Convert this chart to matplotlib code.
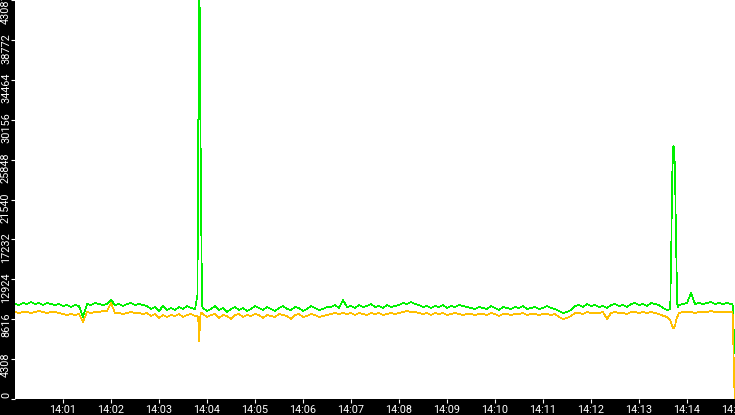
import numpy as np
import matplotlib
matplotlib.use("Agg")
import matplotlib.pyplot as plt
from matplotlib.ticker import FuncFormatter
from matplotlib.transforms import ScaledTranslation

# ==============================================================
# Data (one sample every 5 s from 14:00)
# ==============================================================
STEP = 5  # seconds

green = [
    10260, 10150, 10370, 10260, 10480, 10260, 10370, 10150, 10370, 10260, 10150, 10260,
    10040, 10150, 9930, 10150, 10040,
    8860,
    10260, 10150, 10370, 10260, 10150, 10260,
    10690,
    10150, 10260, 10040, 10260, 10370, 10150, 10260, 10150, 10040,
    9720, 9930, 9500, 10040, 9610,
    9830, 9610, 9930, 9720, 10040, 9830, 9720,
    9830,
    9830, 9500, 9720, 10040, 9610, 9830, 9400, 9720, 9930, 9610,
    9830, 9500, 9720, 10040, 9830, 9610, 9930, 9720, 9500, 9830,
    10040, 9720, 9610, 9930, 9830, 9500, 9720, 10040, 9830, 9610,
    9720, 9930,
    9930, 10150, 9830, 10690,
    9930, 10040, 9830, 10150, 9930, 10040, 10260, 9930, 10040, 9830, 10150, 9930, 10040, 10150,
    10370, 10260, 10480, 10260, 10150,
    9930, 10040, 9830, 10040, 9930, 10150, 9830, 10040, 9930, 10150, 10040, 9930,
    9830, 9720, 9930, 9830, 9720, 10040, 9830, 9610, 9930, 9830,
    9720, 9930, 9830, 10040, 9720, 9830, 9930, 9720, 9830, 10040,
    9830, 9720,
    9500, 9290, 9400, 9610,
    10040, 10150, 9930, 10260, 10040, 10150, 9930, 10040, 9830, 10150,
    10260, 10040, 10150, 9930, 10260, 10370, 10150, 10260, 10040, 10370,
    10260,
    10150, 9830, 9610,
    9700, 9700,
    10150, 10260, 10370, 11450, 10260, 10370, 10260, 10370, 10480, 10260, 10370, 10260, 10370, 10260,
]

yellow = [
    9400, 9290, 9400, 9400, 9290, 9400, 9510, 9400, 9290, 9400, 9400, 9290,
    9180, 9070, 9180, 9070, 9180,
    8320,
    9400, 9290, 9400, 9400, 9510, 9510,
    10370,
    9290, 9290, 9180, 9290, 9400, 9290, 9290, 9180, 9290,
    8960, 9180, 8750, 9070, 8850,
    9070, 8960, 9180, 8850, 9070, 9180, 8960,
    9000,
    9180, 8850, 9070, 9180, 8750, 9070, 8960, 8640, 9070, 9180,
    8850, 9070, 8960, 9180, 9070, 8750, 9070, 8960, 8850, 9180,
    9070, 8960, 8640, 9070, 9180, 8850, 8960, 9180, 9070, 8850,
    8960, 9070,
    9180, 9290, 9180, 9290,
    9180, 9290, 9070, 9290, 9180, 9070, 9290, 9180, 9290, 9070, 9180, 9290, 9180, 9290,
    9400, 9510, 9400, 9400, 9290,
    9180, 9290, 9070, 9290, 9180, 9290, 9070, 9180, 9290, 9180, 9070, 9180,
    9180, 9070, 9180, 9180, 9070, 9290, 9180, 8960, 9180, 9180,
    9070, 9180, 9180, 9290, 9070, 9180, 9180, 9070, 9180, 9180,
    9070, 9180,
    8850, 8640, 8750, 8960,
    9290, 9290, 9180, 9400, 9290, 9290, 9290, 9400, 8640, 9290,
    9400, 9290, 9290, 9180, 9400, 9400, 9290, 9400, 9290, 9400,
    9290,
    9180, 9000, 8850,
    8500, 8500,
    9290, 9400, 9400, 9400, 9290, 9400, 9400, 9400, 9510, 9400, 9400, 9400, 9400, 9400,
]

# the two short bursts are sampled finer (seconds after 14:00)
spike1_t = [228.1, 229.1, 230.4, 231.2, 232.0, 233.0, 234.0]
spike1_green = [11200, 27900, 52000, 33600, 27900, 16900, 10000]
spike1_yellow = [9000, 8500, 6200, 8500, 9100, 9300, 9300]

spike2_t = [819.0, 820.2, 821.6, 822.9, 824.2, 825.2, 826.8, 828.0]
spike2_green = [9700, 15500, 24400, 27300, 27000, 23300, 14700, 9900]
spike2_yellow = [8500, 8200, 7900, 7600, 7700, 8000, 8600, 8900]

# end of the capture
tail_t = [897.0, 899.5]
tail_green = [10300, 4970]
tail_yellow = [9400, 0]

y_tick_labels = ["0", "4308", "8616", "12924", "17232", "21540", "25848",
                 "30156", "34464", "38772", "43081"]
x_tick_minutes = list(range(1, 16))


def build_series(base, bursts, tail_times, tail_vals):
    """Put the regular samples, the bursts and the tail into one sorted series"""
    t = np.arange(len(base)) * STEP
    v = np.array(base, dtype=float)
    keep = np.ones(len(t), dtype=bool)
    for bt, _ in bursts:
        keep &= ~((t >= bt[0] - 0.5) & (t <= bt[-1] + 0.5))
    t, v = t[keep], v[keep]
    for bt, bv in bursts:
        t = np.concatenate([t, bt])
        v = np.concatenate([v, bv])
    t = np.concatenate([t, tail_times])
    v = np.concatenate([v, tail_vals])
    order = np.argsort(t, kind="stable")
    return t[order], v[order]


def main():
    W, H = 735, 415
    fig = plt.figure(figsize=(W / 100, H / 100), dpi=100, facecolor="black")
    ax = fig.add_axes([15 / W, 16 / H, 720 / W, 399 / H])
    ax.set_facecolor("white")
    for s in ax.spines.values():
        s.set_visible(False)

    tg, vg = build_series(green, [(spike1_t, spike1_green), (spike2_t, spike2_green)],
                          tail_t, tail_green)
    ty, vy = build_series(yellow, [(spike1_t, spike1_yellow), (spike2_t, spike2_yellow)],
                          tail_t, tail_yellow)

    ax.plot(tg, vg, color="#00f000", lw=0.5, antialiased=False)
    ax.plot(ty, vy, color="#ffbf00", lw=0.5, antialiased=False)

    ax.set_xlim(0, 900)
    ax.set_ylim(0, 43081)

    # x axis: clock labels
    ax.set_xticks([m * 60 for m in x_tick_minutes])
    ax.xaxis.set_major_formatter(FuncFormatter(lambda s, p: f"14:{int(round(s / 60)):02d}"))
    ax.tick_params(axis="x", colors="white", length=3, width=0.8, pad=1,
                   labelsize=7.8, labelfontfamily="Roboto")

    # y axis: rotated labels sitting a bit above each tick
    y_pos = [int(l) for l in y_tick_labels]
    ax.set_yticks(y_pos)
    ax.set_yticklabels([""] * len(y_pos))
    ax.tick_params(axis="y", colors="white", length=3, width=0.8)
    shift = ScaledTranslation(-4 / 100, 7 / 100, fig.dpi_scale_trans)
    for p, lab in zip(y_pos, y_tick_labels):
        ax.text(0, p, lab, transform=ax.get_yaxis_transform() + shift,
                rotation=90, ha="right", va="top", color="white",
                fontsize=7.8, family="Roboto", clip_on=False)

    fig.savefig("out.png", dpi=100, facecolor="black")


if __name__ == "__main__":
    main()
